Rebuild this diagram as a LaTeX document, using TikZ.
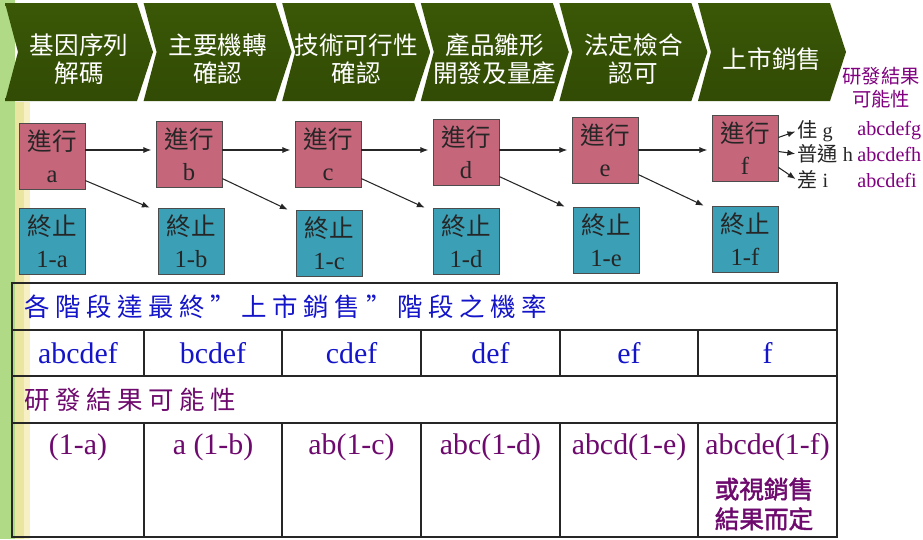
\documentclass[tikz,border=0pt]{standalone}
\usepackage{xcolor}
\usepackage{fontspec}
\setmainfont{Liberation Serif}
\newfontfamily\cjk{Noto Sans CJK TC}
\newfontfamily\cjkwide[LetterSpace=22]{Noto Sans CJK TC}
\newfontfamily\cjkbold[FakeBold=2]{Noto Sans CJK TC}
\usetikzlibrary{arrows.meta}

\definecolor{stagedark}{HTML}{3A5806}
\definecolor{stagemid}{HTML}{68A202}
\definecolor{gofill}{HTML}{C6667B}
\definecolor{stopfill}{HTML}{3BA0B6}
\definecolor{tabblue}{HTML}{1414C8}
\definecolor{tabpurple}{HTML}{6E0A6E}
\definecolor{labpurple}{HTML}{800080}
\definecolor{edgegreen}{HTML}{B0DA86}
\definecolor{edgeyellow}{HTML}{EAE5A0}
\definecolor{edgepale}{HTML}{F7F0C4}

\begin{document}
\begin{tikzpicture}[x=0.02cm, y=-0.02cm,
    stagetext/.style={text=white, align=center, font=\cjk\fontsize{14}{16}\selectfont},
    gobox/.style={draw=black!70, fill=gofill, minimum size=1.32cm, inner sep=0pt, align=center,
      text=black!85, font=\fontsize{14}{18}\selectfont},
    stopbox/.style={gobox, fill=stopfill},
    flow/.style={-{Latex[length=4.5pt,width=3.5pt]}, line width=0.6pt, black!85},
    outcome/.style={anchor=west, inner sep=0pt, text=black!85, font=\fontsize{11.5}{13}\selectfont},
    grid/.style={line width=1pt, black!85},
    cell/.style={font=\fontsize{17}{20}\selectfont}]
  \useasboundingbox (0,0) rectangle (923,539);

  % left edge strips
  \fill[edgegreen] (0,0) rectangle (15,539);
  \fill[edgeyellow] (15,102) rectangle (24,539);
  \fill[edgepale] (24,102) rectangle (30,539);

  % process chevrons
  \foreach \txt [count=\i from 1] in {{基因序列\\解碼}, {主要機轉\\確認}, {技術可行性\\確認},
      {產品雛形\\開發及量產}, {法定檢合\\認可}, {上市銷售}}{%
    \pgfmathsetmacro\xo{5+138.6*(\i-1)}
    \shade[top color=stagedark, middle color=stagemid, bottom color=stagedark!85!black]
      (\xo,3) -- ++(132,0) -- ++(16,49) -- ++(-16,49) -- ++(-132,0) -- ++(13,-49) -- cycle;
    \node[stagetext] (stage\i) at (\xo+74,59) {\txt};
  }

  \node[text=labpurple, align=center, font=\cjk\fontsize{11}{13}\selectfont] (outcomehead) at (881,88) {研發結果\\可能性};

  % go / stop boxes
  \foreach \x\y\l in {52/156/a, 189/154/b, 328/154/c, 466/152/d, 605/150/e, 745/148/f}{%
    \node[gobox] (go\l) at (\x,\y) {{\cjk 進行}\\\l};
  }
  \foreach \x\y\l in {52/241/a, 191/241/b, 329/243/c, 466/241/d, 606/240/e, 745/239/f}{%
    \node[stopbox] (stop\l) at (\x,\y) {{\cjk 終止}\\1-\l};
  }

  \coordinate (lane) at (0,150);
  \foreach \p\q in {a/b, b/c, c/d, d/e, e/f}{%
    \draw[flow, shorten >=2.5pt] (go\p.east |- lane) -- (go\q.west |- lane);
    \draw[flow] ([yshift=5pt]go\p.south east) -- ([xshift=-4.5pt]stop\q.north west);
  }

  % outcomes of the last stage
  \node[outcome] (good) at (797,131) {{\cjk 佳} g};
  \node[outcome] (fair) at (797,154) {{\cjk 普通} h};
  \node[outcome] (poor) at (797,180) {{\cjk 差} i};
  \node[outcome, text=labpurple] (goodp) at (857,131) {abcdefg};
  \node[outcome, text=labpurple] (fairp) at (857,154) {abcdefh};
  \node[outcome, text=labpurple] (poorp) at (857,180) {abcdefi};
  \draw[flow, shorten >=1pt] ([yshift=6pt]gof.east) -- (good.west);
  \draw[flow, shorten >=1pt] ([yshift=-2pt]gof.east) -- (fair.west);
  \draw[flow, shorten >=1pt] ([yshift=-11pt]gof.east) -- (poor.west);

  % probability table
  \draw[grid] (12,283) rectangle (837,537);
  \foreach \y in {330,376,423} \draw[grid] (12,\y) -- (837,\y);
  \foreach \x in {144,282,421,560,698}{%
    \draw[grid] (\x,330) -- (\x,376);
    \draw[grid] (\x,423) -- (\x,537);
  }
  \node[anchor=west, text=tabblue, font=\cjkwide\fontsize{14.5}{16}\selectfont] (ratehead) at (18,307) {各階段達最終”上市銷售”階段之機率};
  \node[anchor=west, text=tabpurple, font=\cjkwide\fontsize{14.5}{16}\selectfont] (resulthead) at (18,400) {研發結果可能性};
  \foreach \x\t [count=\i from 1] in {78/abcdef, 213/bcdef, 351.5/cdef, 490.5/def, 629/ef, 767.5/f}{%
    \node[cell, text=tabblue] (rate\i) at (\x,353) {\t};
  }
  \foreach \x\t [count=\i from 1] in {78/(1-a), 213/a (1-b), 351.5/ab(1-c), 490.5/abc(1-d), 629/abcd(1-e), 767.5/abcde(1-f)}{%
    \node[cell, text=tabpurple] (result\i) at (\x,447) {\t};
  }
  \node[text=tabpurple, align=center, font=\cjkbold\fontsize{14}{17}\selectfont] (salesnote) at (764,504) {或視銷售\\結果而定};
\end{tikzpicture}
\end{document}
